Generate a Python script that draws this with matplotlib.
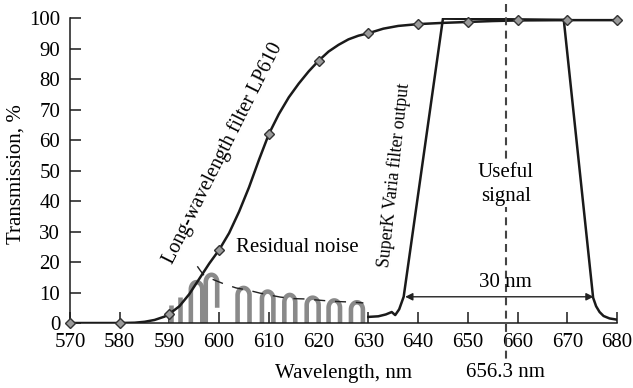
import numpy as np
import matplotlib.pyplot as plt

plt.rcParams['font.family'] = ['Liberation Serif', 'DejaVu Serif']

# long-wavelength filter LP610 (curve)
lp_nm = [570, 580, 583, 585, 587, 589, 590, 592, 594, 596, 598, 600, 602, 604, 606, 608,
         610, 612, 614, 616, 618, 620, 622, 624, 626, 628, 630, 633, 636, 640, 645, 650,
         655, 660, 670, 680]
lp_T = [0, 0, 0.1, 0.4, 1.0, 2.1, 3.0, 5.5, 9.5, 14.5, 19.5, 24, 29.5, 36.5, 44.5, 53.5,
        62, 68.5, 74, 78.5, 82.5, 86, 89, 91.2, 93, 94.2, 95, 96.5, 97.4, 98, 98.4, 98.7,
        99, 99.2, 99.3, 99.3]
mark_nm = [570, 580, 590, 600, 610, 620, 630, 640, 650, 660, 670, 680]
mark_T = [0, 0, 3.0, 24, 62, 86, 95.1, 98, 98.6, 99.2, 99.2, 99.2]

# SuperK Varia filter output
sk_nm = [630, 632, 633.5, 634.7, 635.4, 636.2, 637.1, 645, 669.3, 675.2, 675.8, 676.5,
         677.3, 678.5, 680]
sk_T = [2, 2.2, 2.8, 3.6, 2.6, 4.5, 8.6, 99.8, 99.4, 8.3, 5.5, 3.6, 2.3, 1.5, 1.1]

# residual noise: single spikes and arches (left leg, right leg, top, right leg bottom)
spike_nm = [590.3, 592.1]
spike_T = [5.9, 8.6]
arch_left = [594.3, 597.3, 603.7, 608.6, 613.1, 617.6, 622.0, 626.5]
arch_right = [596.6, 599.6, 606.1, 610.9, 615.3, 620.0, 624.3, 628.9]
arch_top = [13.4, 15.8, 11.5, 10.3, 9.2, 8.3, 7.4, 6.8]
arch_bottom = [0, 5, 0, 0, 0, 0, 0, 0]

# envelope of the noise (dashed)
env_nm = [595.6, 596.2, 597, 599, 601, 603.4, 606, 608.2, 610, 612.3, 615, 617, 620, 623, 626, 629]
env_T = [18.6, 17.2, 15.5, 14.1, 12.8, 11.5, 10.7, 9.8, 9.2, 8.5, 8.0, 7.9, 7.5, 7.1, 6.9, 6.6]

h_alpha = 657.6
band = (637.4, 675.3)
band_level = 8.6

fig = plt.figure(figsize=(6.33, 3.88), dpi=100)
ax = fig.add_axes([0.1106, 0.1675, 0.8641, 0.7861])

grey = '#8a8a8a'
ax.vlines(spike_nm, 0, spike_T, color=grey, lw=3.3)
for xl, xr, top, bot in zip(arch_left, arch_right, arch_top, arch_bottom):
    rx = (xr - xl) / 2
    ry = 2.4
    t = np.linspace(np.pi, 0, 30)
    xs = np.concatenate([[xl], xl + rx + rx * np.cos(t), [xr]])
    ys = np.concatenate([[0], top - ry + ry * np.sin(t), [bot]])
    ax.plot(xs, ys, color=grey, lw=3.3, solid_capstyle='butt')

ax.plot(env_nm, env_T, color='#222222', lw=1, dashes=(8, 7))

ax.plot(sk_nm, sk_T, color='#1a1a1a', lw=1.8)
ax.plot(lp_nm, lp_T, color='#1a1a1a', lw=1.8)
ax.plot(mark_nm, mark_T, ls='none', marker='D', ms=5.5, mfc='#9a9a9a', mec='#333333',
        mew=1, clip_on=False, zorder=5)

ax.plot([h_alpha, h_alpha], [104.5, -12], color='#444444', lw=1.5, dashes=(3.8, 2.6),
        clip_on=False)

ax.annotate('', xy=(band[0], band_level), xytext=(band[1], band_level),
            arrowprops=dict(arrowstyle='<|-|>', lw=1, color='#222222', mutation_scale=11,
                            shrinkA=0, shrinkB=0))

ax.text(h_alpha, 13.2, '30 nm', ha='center', va='center', fontsize=15)
ax.text(h_alpha, 45.4, 'Useful\nsignal', ha='center', va='center', fontsize=15,
        linespacing=1.3, bbox=dict(fc='white', ec='none', pad=1))
ax.text(h_alpha, -16.3, '656.3 nm', ha='center', va='center', fontsize=15)
ax.text(603.4, 24.9, 'Residual noise', ha='left', va='center', fontsize=15)
ax.text(600.8, 55.7, 'Long-wavelength filter LP610', ha='center', va='center', fontsize=14.5,
        rotation=63.4, rotation_mode='anchor')
ax.text(635.2, 48.5, 'SuperK Varia filter output', ha='center', va='center', fontsize=12.8,
        rotation=83.8, rotation_mode='anchor')

ax.set_xlim(570, 680)
ax.set_ylim(0, 100)
ax.set_xticks(np.arange(570, 681, 10))
ax.set_yticks(np.arange(0, 101, 10))
ax.spines['top'].set_visible(False)
ax.spines['right'].set_visible(False)
for s in ['left', 'bottom']:
    ax.spines[s].set_linewidth(1.1)
    ax.spines[s].set_color('#1a1a1a')
ax.tick_params(direction='in', length=8, width=1.1, color='#1a1a1a', labelsize=15)
ax.tick_params(axis='x', pad=7)
ax.tick_params(axis='y', pad=7)
ax.set_xlabel('Wavelength, nm', fontsize=15, labelpad=9)
ax.set_ylabel('Transmission, %', fontsize=15)
ax.yaxis.set_label_coords(-0.082, 0.487)

fig.savefig('out.png', dpi=100)
